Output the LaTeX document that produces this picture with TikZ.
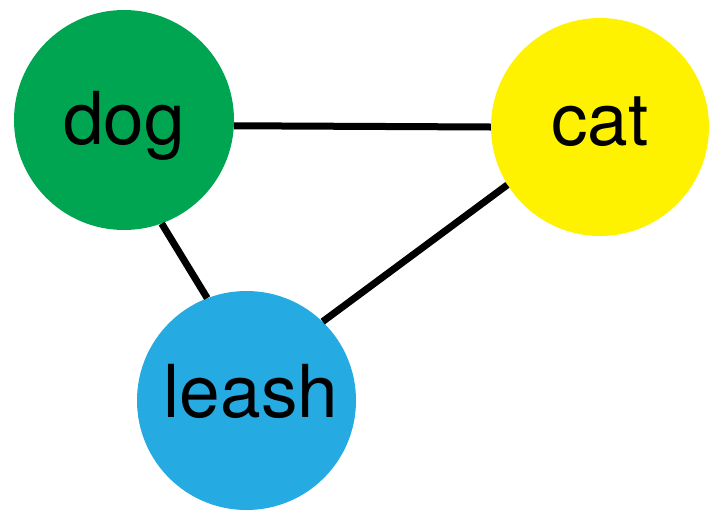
\documentclass[tikz,border=0pt]{standalone}
\usepackage{fontspec}
\setmainfont{TeX Gyre Heros}
\definecolor{dogc}{HTML}{00A551}
\definecolor{catc}{HTML}{FFF200}
\definecolor{leashc}{HTML}{25AAE1}
\begin{document}
\begin{tikzpicture}[x=1pt,y=-1pt,
  vtx/.style={circle,inner sep=0pt,text depth=0pt,font=\fontsize{73}{73}\selectfont},
  edge/.style={line width=7pt,black}]
\useasboundingbox (0,0) rectangle (726,523);
\node[vtx,fill=dogc,minimum size=220pt,text height=48pt] (dog) at (124,120) {dog};
\node[vtx,fill=catc,minimum size=218pt,text height=36pt] (cat) at (600,127) {cat};
\node[vtx,fill=leashc,minimum size=219pt,text height=33pt] (leash) at (246.5,400.5) {\kern9pt leash};
\draw[edge] (dog.-3.5) -- (cat.west);
\draw[edge] (dog.-70) -- (leash.111);
\draw[edge] (leash.46.5) -- (cat.-148.6);
\end{tikzpicture}
\end{document}
